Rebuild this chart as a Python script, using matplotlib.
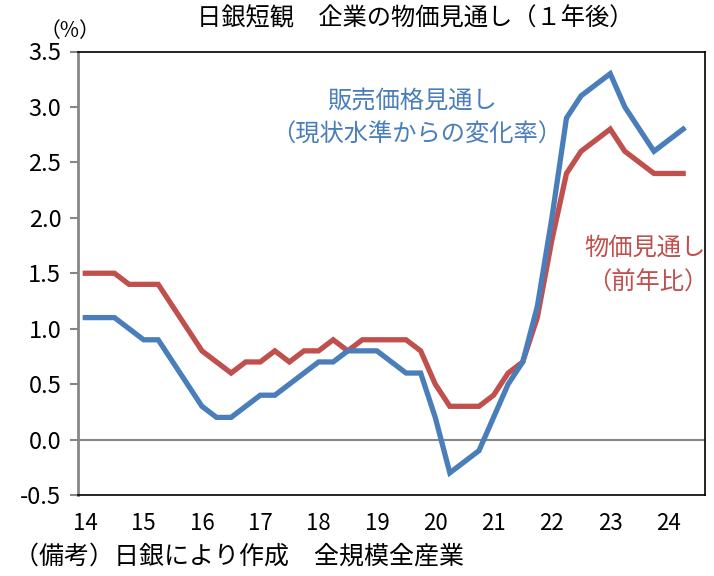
import matplotlib
matplotlib.use('Agg')
import matplotlib.pyplot as plt
import numpy as np

plt.rcParams['font.family'] = ['Noto Sans CJK JP', 'DejaVu Sans']

# quarterly, 2014Q1 .. 2024Q2
year_labels = ['14', '15', '16', '17', '18', '19', '20', '21', '22', '23', '24']
selling_price = [1.1, 1.1, 1.1, 1.0, 0.9, 0.9, 0.7, 0.5, 0.3, 0.2, 0.2, 0.3, 0.4, 0.4,
                 0.5, 0.6, 0.7, 0.7, 0.8, 0.8, 0.8, 0.7, 0.6, 0.6, 0.2, -0.3, -0.2, -0.1,
                 0.2, 0.5, 0.7, 1.2, 2.0, 2.9, 3.1, 3.2, 3.3, 3.0, 2.8, 2.6, 2.7, 2.8]
general_price = [1.5, 1.5, 1.5, 1.4, 1.4, 1.4, 1.2, 1.0, 0.8, 0.7, 0.6, 0.7, 0.7, 0.8,
                 0.7, 0.8, 0.8, 0.9, 0.8, 0.9, 0.9, 0.9, 0.9, 0.8, 0.5, 0.3, 0.3, 0.3,
                 0.4, 0.6, 0.7, 1.1, 1.8, 2.4, 2.6, 2.7, 2.8, 2.6, 2.5, 2.4, 2.4, 2.4]
yticks = [-0.5, 0.0, 0.5, 1.0, 1.5, 2.0, 2.5, 3.0, 3.5]

blue = '#4a7ebb'
red = '#c0504d'

fig = plt.figure(figsize=(7.14, 5.76), dpi=100)
ax = fig.add_axes([78/714, 81/576, 627/714, 443.5/576])

x = np.arange(len(selling_price))
ax.axhline(0, color='#868686', lw=1.5, zorder=1)
ax.plot(x, selling_price, color=blue, lw=3.8, zorder=3, solid_joinstyle='miter')
ax.plot(x, general_price, color=red, lw=3.8, zorder=2, solid_joinstyle='miter')

ax.set_xlim(-0.5, 42.5)
ax.set_ylim(-0.5, 3.5)
ax.set_yticks(yticks)
ax.set_yticklabels([f'{v:.1f}' for v in yticks], fontsize=17)
ax.set_xticks(np.arange(0, 41, 4))
ax.set_xticklabels(year_labels, fontsize=16)
ax.tick_params(axis='x', length=0, pad=12)
ax.tick_params(axis='y', length=6, width=1.5, color='#868686', pad=6)

for s in ['top', 'right', 'bottom']:
    ax.spines[s].set_color('black')
    ax.spines[s].set_linewidth(1.2)
ax.spines['left'].set_color('#868686')
ax.spines['left'].set_linewidth(2)

fig.text(415/714, 1 - 18/576, '日銀短観　企業の物価見通し（１年後）', fontsize=17.5,
         ha='center', va='center')
fig.text(70/714, 1 - 31/576, '（%）', fontsize=15, ha='center', va='center')
fig.text(412/714, 1 - 102/576, '販売価格見通し', fontsize=17.5, color=blue,
         ha='center', va='center')
fig.text(417/714, 1 - 135/576, '（現状水準からの変化率）', fontsize=17.5, color=blue,
         ha='center', va='center')
fig.text(645/714, 1 - 248/576, '物価見通し', fontsize=17.5, color=red,
         ha='center', va='center')
fig.text(648/714, 1 - 283/576, '（前年比）', fontsize=17.5, color=red,
         ha='center', va='center')
fig.text(14/714, 1 - 556/576, '（備考）日銀により作成　全規模全産業', fontsize=18,
         ha='left', va='center')

fig.savefig('out.png', dpi=100)
